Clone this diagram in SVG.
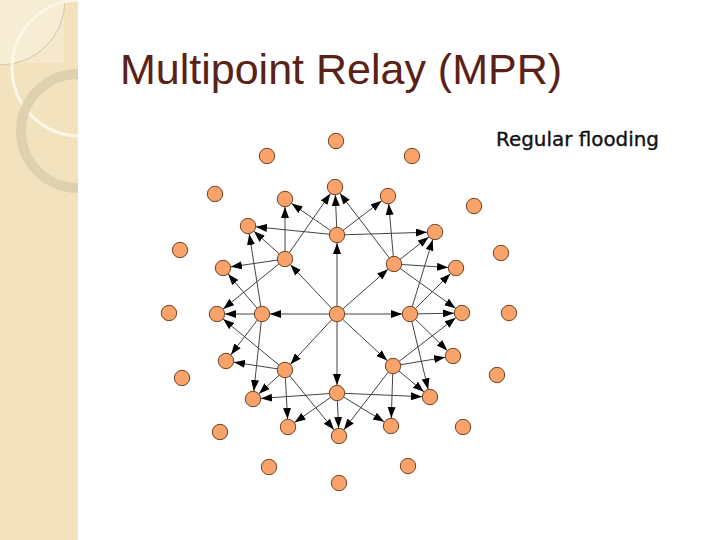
<svg xmlns="http://www.w3.org/2000/svg" width="720" height="540" viewBox="0 0 720 540">
  <style>
    .edge { stroke: #444; stroke-width: 1; fill: none; marker-end: url(#arr); }
    .node { fill: #F9A36B; stroke: #6E4426; stroke-width: 1; }
    .title { font-family: "Liberation Sans", Arial, sans-serif; font-size: 43px; fill: #5A2216; }
    .label { font-family: "DejaVu Sans", Verdana, sans-serif; font-size: 20px; fill: #111; stroke: #111; stroke-width: 0.35; }
  </style>
  <defs>
    <marker id="arr" markerUnits="userSpaceOnUse" markerWidth="20" markerHeight="9" refX="19" refY="4" orient="auto">
      <path d="M0,0 L11,4 L0,8 z" fill="#000"/>
    </marker>
    <clipPath id="strip"><rect x="0" y="0" width="78" height="540"/></clipPath>
  </defs>
  <rect width="720" height="540" fill="#fff"/>
  <g id="decor" clip-path="url(#strip)">
    <rect x="0" y="0" width="78" height="540" fill="#F2E2BE"/>
    <rect x="0" y="0" width="64" height="63" fill="#F5E8CC"/>
    <circle cx="0" cy="0" r="65" fill="#F7ECD4" stroke="#CDBE9C" stroke-width="0.8"/>
    <circle cx="80" cy="68" r="68" fill="none" stroke="#FCF6E6" stroke-width="3"/>
    <circle cx="78" cy="131" r="57" fill="none" stroke="#DCCFAE" stroke-width="10" opacity="0.9"/>
  </g>
  <text class="title" x="120" y="84">Multipoint Relay (MPR)</text>
  <text class="label" x="496" y="146" textLength="163" lengthAdjust="spacingAndGlyphs">Regular flooding</text>
  <g id="connectors">
    <line class="edge" x1="337" y1="314" x2="337" y2="235"/>
    <line class="edge" x1="337" y1="314" x2="394" y2="264"/>
    <line class="edge" x1="337" y1="314" x2="410" y2="314"/>
    <line class="edge" x1="337" y1="314" x2="393" y2="366"/>
    <line class="edge" x1="337" y1="314" x2="337" y2="393"/>
    <line class="edge" x1="337" y1="314" x2="285" y2="370"/>
    <line class="edge" x1="337" y1="314" x2="262" y2="314"/>
    <line class="edge" x1="337" y1="314" x2="285" y2="259"/>

    <line class="edge" x1="337" y1="235" x2="248" y2="226"/>
    <line class="edge" x1="337" y1="235" x2="285" y2="199"/>
    <line class="edge" x1="337" y1="235" x2="335" y2="187"/>
    <line class="edge" x1="337" y1="235" x2="388" y2="196"/>
    <line class="edge" x1="337" y1="235" x2="435" y2="232"/>

    <line class="edge" x1="394" y1="264" x2="335" y2="187"/>
    <line class="edge" x1="394" y1="264" x2="388" y2="196"/>
    <line class="edge" x1="394" y1="264" x2="435" y2="232"/>
    <line class="edge" x1="394" y1="264" x2="456" y2="268"/>
    <line class="edge" x1="394" y1="264" x2="462" y2="313"/>

    <line class="edge" x1="410" y1="314" x2="435" y2="232"/>
    <line class="edge" x1="410" y1="314" x2="456" y2="268"/>
    <line class="edge" x1="410" y1="314" x2="462" y2="313"/>
    <line class="edge" x1="410" y1="314" x2="453" y2="356"/>
    <line class="edge" x1="410" y1="314" x2="430" y2="397"/>

    <line class="edge" x1="393" y1="366" x2="462" y2="313"/>
    <line class="edge" x1="393" y1="366" x2="453" y2="356"/>
    <line class="edge" x1="393" y1="366" x2="430" y2="397"/>
    <line class="edge" x1="393" y1="366" x2="391" y2="426"/>
    <line class="edge" x1="393" y1="366" x2="339" y2="436"/>

    <line class="edge" x1="337" y1="393" x2="430" y2="397"/>
    <line class="edge" x1="337" y1="393" x2="391" y2="426"/>
    <line class="edge" x1="337" y1="393" x2="339" y2="436"/>
    <line class="edge" x1="337" y1="393" x2="288" y2="427"/>
    <line class="edge" x1="337" y1="393" x2="253" y2="399"/>

    <line class="edge" x1="285" y1="370" x2="339" y2="436"/>
    <line class="edge" x1="285" y1="370" x2="288" y2="427"/>
    <line class="edge" x1="285" y1="370" x2="253" y2="399"/>
    <line class="edge" x1="285" y1="370" x2="226" y2="361"/>
    <line class="edge" x1="285" y1="370" x2="217" y2="314"/>

    <line class="edge" x1="262" y1="314" x2="253" y2="399"/>
    <line class="edge" x1="262" y1="314" x2="226" y2="361"/>
    <line class="edge" x1="262" y1="314" x2="217" y2="314"/>
    <line class="edge" x1="262" y1="314" x2="223" y2="268"/>
    <line class="edge" x1="262" y1="314" x2="248" y2="226"/>

    <line class="edge" x1="285" y1="259" x2="217" y2="314"/>
    <line class="edge" x1="285" y1="259" x2="223" y2="268"/>
    <line class="edge" x1="285" y1="259" x2="248" y2="226"/>
    <line class="edge" x1="285" y1="259" x2="285" y2="199"/>
    <line class="edge" x1="285" y1="259" x2="335" y2="187"/>
  </g>
  <g id="n_c"><circle class="node" cx="337" cy="314" r="7.7"/></g>
  <g id="r1_0"><circle class="node" cx="337" cy="235" r="7.7"/></g>
  <g id="r1_1"><circle class="node" cx="394" cy="264" r="7.7"/></g>
  <g id="r1_2"><circle class="node" cx="410" cy="314" r="7.7"/></g>
  <g id="r1_3"><circle class="node" cx="393" cy="366" r="7.7"/></g>
  <g id="r1_4"><circle class="node" cx="337" cy="393" r="7.7"/></g>
  <g id="r1_5"><circle class="node" cx="285" cy="370" r="7.7"/></g>
  <g id="r1_6"><circle class="node" cx="262" cy="314" r="7.7"/></g>
  <g id="r1_7"><circle class="node" cx="285" cy="259" r="7.7"/></g>
  <g id="r2_0"><circle class="node" cx="335" cy="187" r="7.7"/></g>
  <g id="r2_1"><circle class="node" cx="388" cy="196" r="7.7"/></g>
  <g id="r2_2"><circle class="node" cx="435" cy="232" r="7.7"/></g>
  <g id="r2_3"><circle class="node" cx="456" cy="268" r="7.7"/></g>
  <g id="r2_4"><circle class="node" cx="462" cy="313" r="7.7"/></g>
  <g id="r2_5"><circle class="node" cx="453" cy="356" r="7.7"/></g>
  <g id="r2_6"><circle class="node" cx="430" cy="397" r="7.7"/></g>
  <g id="r2_7"><circle class="node" cx="391" cy="426" r="7.7"/></g>
  <g id="r2_8"><circle class="node" cx="339" cy="436" r="7.7"/></g>
  <g id="r2_9"><circle class="node" cx="288" cy="427" r="7.7"/></g>
  <g id="r2_10"><circle class="node" cx="253" cy="399" r="7.7"/></g>
  <g id="r2_11"><circle class="node" cx="226" cy="361" r="7.7"/></g>
  <g id="r2_12"><circle class="node" cx="217" cy="314" r="7.7"/></g>
  <g id="r2_13"><circle class="node" cx="223" cy="268" r="7.7"/></g>
  <g id="r2_14"><circle class="node" cx="248" cy="226" r="7.7"/></g>
  <g id="r2_15"><circle class="node" cx="285" cy="199" r="7.7"/></g>
  <g id="o_0"><circle class="node" cx="336" cy="141" r="7.7"/></g>
  <g id="o_1"><circle class="node" cx="412" cy="156" r="7.7"/></g>
  <g id="o_2"><circle class="node" cx="474" cy="206" r="7.7"/></g>
  <g id="o_3"><circle class="node" cx="501" cy="253" r="7.7"/></g>
  <g id="o_4"><circle class="node" cx="509" cy="313" r="7.7"/></g>
  <g id="o_5"><circle class="node" cx="497" cy="375" r="7.7"/></g>
  <g id="o_6"><circle class="node" cx="463" cy="427" r="7.7"/></g>
  <g id="o_7"><circle class="node" cx="408" cy="466" r="7.7"/></g>
  <g id="o_8"><circle class="node" cx="339" cy="483" r="7.7"/></g>
  <g id="o_9"><circle class="node" cx="269" cy="467" r="7.7"/></g>
  <g id="o_10"><circle class="node" cx="220" cy="432" r="7.7"/></g>
  <g id="o_11"><circle class="node" cx="182" cy="378" r="7.7"/></g>
  <g id="o_12"><circle class="node" cx="169" cy="313" r="7.7"/></g>
  <g id="o_13"><circle class="node" cx="180" cy="250" r="7.7"/></g>
  <g id="o_14"><circle class="node" cx="215" cy="194" r="7.7"/></g>
  <g id="o_15"><circle class="node" cx="267" cy="156" r="7.7"/></g>
</svg>
